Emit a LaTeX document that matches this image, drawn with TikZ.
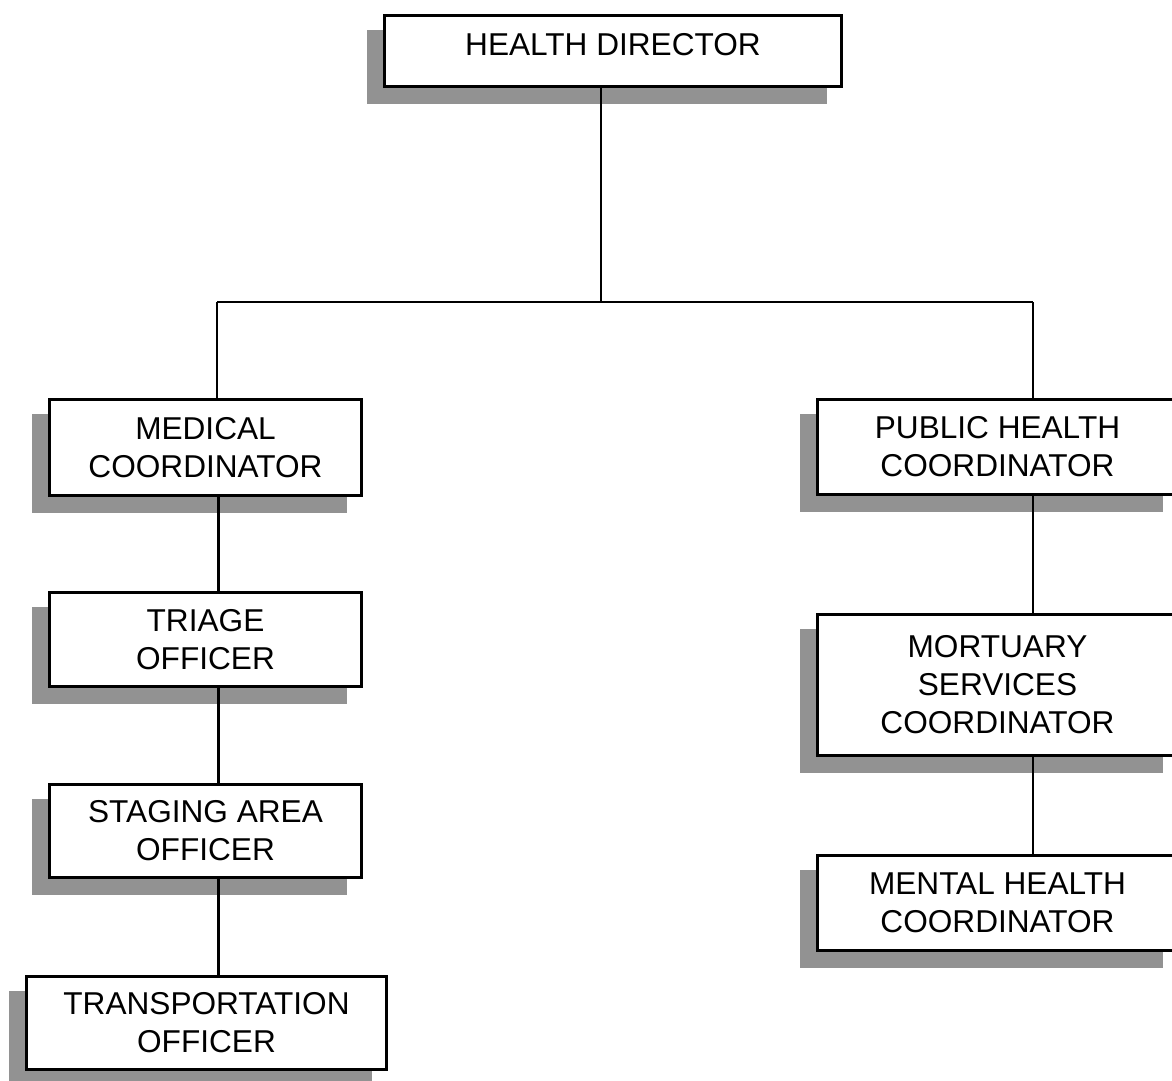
\documentclass[tikz,border=0pt]{standalone}
\usepackage{fontspec}
\setmainfont{Liberation Sans}
\usetikzlibrary{backgrounds}
\definecolor{shadowgray}{RGB}{146,146,146}
\begin{document}
\begin{tikzpicture}[x=1pt,y=-1pt,
  orgbox/.style={draw=black, line width=3.2pt, fill=white, inner sep=0pt,
                 font=\fontsize{31.6pt}{38pt}\selectfont},
  multi/.style={orgbox, align=center},
  thinconn/.style={draw=black, line width=1.3pt},
  thickconn/.style={draw=black, line width=3pt}]
\useasboundingbox (0,0) rectangle (1172,1081);

% boxes
\node[orgbox, minimum width=457pt, minimum height=71pt, text depth=14pt] (hd) at (613,51) {HEALTH DIRECTOR};
\node[multi, minimum width=312pt, minimum height=96pt] (med) at (205.5,447.5) {MEDICAL\\COORDINATOR};
\node[multi, minimum width=312pt, minimum height=94pt] (tri) at (205.5,639.5) {TRIAGE\\OFFICER};
\node[multi, minimum width=312pt, minimum height=93pt] (sta) at (205.5,831) {STAGING AREA\\OFFICER};
\node[multi, minimum width=360pt, minimum height=93pt] (tra) at (206.5,1023) {TRANSPORTATION\\OFFICER};
\node[multi, minimum width=360pt, minimum height=95pt] (pub) at (997.5,447) {PUBLIC HEALTH\\COORDINATOR};
\node[multi, minimum width=360pt, minimum height=141pt] (mor) at (997.5,685) {MORTUARY\\SERVICES\\COORDINATOR};
\node[multi, minimum width=360pt, minimum height=95pt] (men) at (997.5,903) {MENTAL HEALTH\\COORDINATOR};

% shadows and white page
\begin{scope}[on background layer]
  \fill[white] (0,0) rectangle (1172,1081);
  \foreach \n in {hd,med,tri,sta,tra,pub,mor,men}
    \fill[shadowgray] ([shift={(-16,16)}]\n.north west) rectangle ([shift={(-16,16)}]\n.south east);
\end{scope}

% junction points
\coordinate (j0) at (601,302);
\coordinate (jl) at (217,302);
\coordinate (jr) at (1033,302);
\coordinate (cl) at (218,302);

% connectors
\draw[thinconn] (hd.south -| j0) -- (j0);
\draw[thinconn] (jl) -- (jr);
\draw[thinconn] (jl) -- (jl |- med.north);
\draw[thinconn] (jr) -- (jr |- pub.north);
\draw[thickconn] (med.south -| cl) -- (tri.north -| cl);
\draw[thickconn] (tri.south -| cl) -- (sta.north -| cl);
\draw[thickconn] (sta.south -| cl) -- (tra.north -| cl);
\draw[thinconn] (pub.south -| jr) -- (mor.north -| jr);
\draw[thinconn] (mor.south -| jr) -- (men.north -| jr);
\end{tikzpicture}
\end{document}
